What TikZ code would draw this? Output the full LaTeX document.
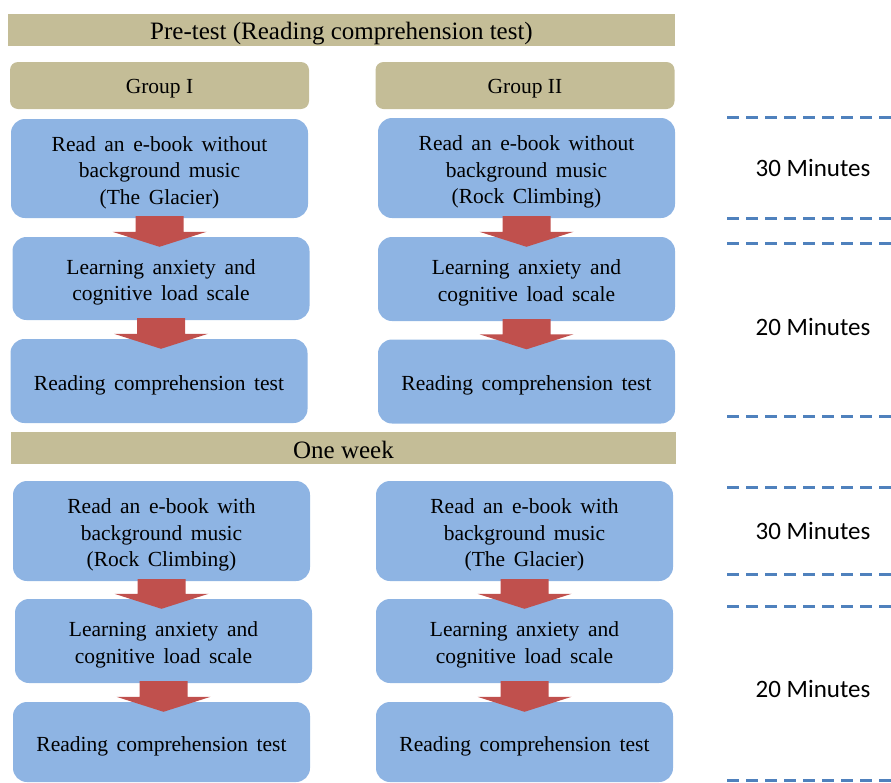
\documentclass[tikz,border=0pt]{standalone}
\usepackage{fontspec}
\setmainfont{Liberation Serif}
\newfontfamily\stepfont[WordSpace=1.6]{Liberation Serif}
\newfontfamily\minfont{Carlito}
\usetikzlibrary{calc}
\definecolor{bannertan}{RGB}{196,189,151}
\definecolor{boxblue}{RGB}{142,180,227}
\definecolor{arrowred}{RGB}{192,80,77}
\definecolor{dashblue}{RGB}{79,129,189}

\tikzset{
  banner/.style={fill=bannertan, inner sep=0pt, align=center,
    font=\fontsize{25}{30}\selectfont},
  grouphead/.style={fill=bannertan, rounded corners=8pt, inner sep=0pt,
    align=center, font=\fontsize{21.5}{26.5}\selectfont, text height=20.5pt,
    minimum width=299pt, minimum height=47pt},
  stepbox/.style={fill=boxblue, rounded corners=14pt, inner sep=0pt,
    align=center, font=\stepfont\fontsize{21.5}{26.5}\selectfont,
    minimum width=297pt},
  % text block heights for one, two and three lines of step text
  oneline/.style={text height=22.7pt},
  twolines/.style={text height=49.2pt},
  threelines/.style={text height=75.7pt},
  timelabel/.style={font=\minfont\fontsize{25}{30}\selectfont, inner sep=0pt},
  timeline/.style={draw=dashblue, line width=3pt, dash pattern=on 12pt off 7pt},
}

% block arrow from the bottom of one step to the top of the next
\newcommand{\flowarrow}[2]{%
  \fill[arrowred]
    ($(#1.south)+(-24,-2)$) -- ($(#1.south)+(24,-2)$)
    -- ($(#1.south |- #2.north)+(24,-5)$) -- ($(#1.south |- #2.north)+(47,-5)$)
    -- ($(#1.south |- #2.north)+(0,10)$)
    -- ($(#1.south |- #2.north)+(-47,-5)$) -- ($(#1.south |- #2.north)+(-24,-5)$)
    -- cycle;}

\begin{document}
\begin{tikzpicture}[x=1pt, y=-1pt]
\useasboundingbox (0,0) rectangle (891,782);

% phase banners
\node[banner, text height=25.2pt, minimum width=667pt, minimum height=32pt] (pre) at (341.5,30) {Pre-test (Reading comprehension test)};
\node[banner, text height=21.5pt, minimum width=665pt, minimum height=32pt] (week) at (343.5,448) {One week};

% group headings
\node[grouphead] (g1) at (159.5,85.5) {Group I};
\node[grouphead] (g2) at (525,85.5) {Group II};

% first session, group I
\node[stepbox, threelines, minimum height=99pt] (a1) at (159.5,168.5) {Read an e-book without\\background music\\(The Glacier)};
\node[stepbox, twolines, minimum height=83pt] (a2) at (161,278.5) {Learning anxiety and\\cognitive load scale};
\node[stepbox, oneline, minimum height=84pt] (a3) at (159,381) {Reading comprehension test};

% first session, group II
\node[stepbox, threelines, minimum height=100pt] (b1) at (526.5,168) {Read an e-book without\\background music\\(Rock Climbing)};
\node[stepbox, twolines, minimum height=84pt] (b2) at (526.5,279) {Learning anxiety and\\cognitive load scale};
\node[stepbox, oneline, minimum height=84pt] (b3) at (526.5,381.5) {Reading comprehension test};

% second session, group I
\node[stepbox, threelines, minimum height=100pt] (c1) at (161.5,531) {Read an e-book with\\background music\\(Rock Climbing)};
\node[stepbox, twolines, minimum height=84pt] (c2) at (163.5,641) {Learning anxiety and\\cognitive load scale};
\node[stepbox, oneline, minimum height=80pt] (c3) at (161.5,742) {Reading comprehension test};

% second session, group II
\node[stepbox, threelines, minimum height=100pt] (d1) at (524.5,531) {Read an e-book with\\background music\\(The Glacier)};
\node[stepbox, twolines, minimum height=84pt] (d2) at (524.5,641) {Learning anxiety and\\cognitive load scale};
\node[stepbox, oneline, minimum height=80pt] (d3) at (524.5,742) {Reading comprehension test};

% arrows between steps
\flowarrow{a1}{a2}
\flowarrow{a2}{a3}
\flowarrow{b1}{b2}
\flowarrow{b2}{b3}
\flowarrow{c1}{c2}
\flowarrow{c2}{c3}
\flowarrow{d1}{d2}
\flowarrow{d2}{d3}

% time scale
\foreach \yy in {117,218,243,416,487,574,606,780.5}
  \draw[timeline] (727,\yy) -- (891,\yy);
\node[timelabel] (t1) at (813,168) {30 Minutes};
\node[timelabel] (t2) at (813,327) {20 Minutes};
\node[timelabel] (t3) at (813,531) {30 Minutes};
\node[timelabel] (t4) at (813,689) {20 Minutes};
\end{tikzpicture}
\end{document}
